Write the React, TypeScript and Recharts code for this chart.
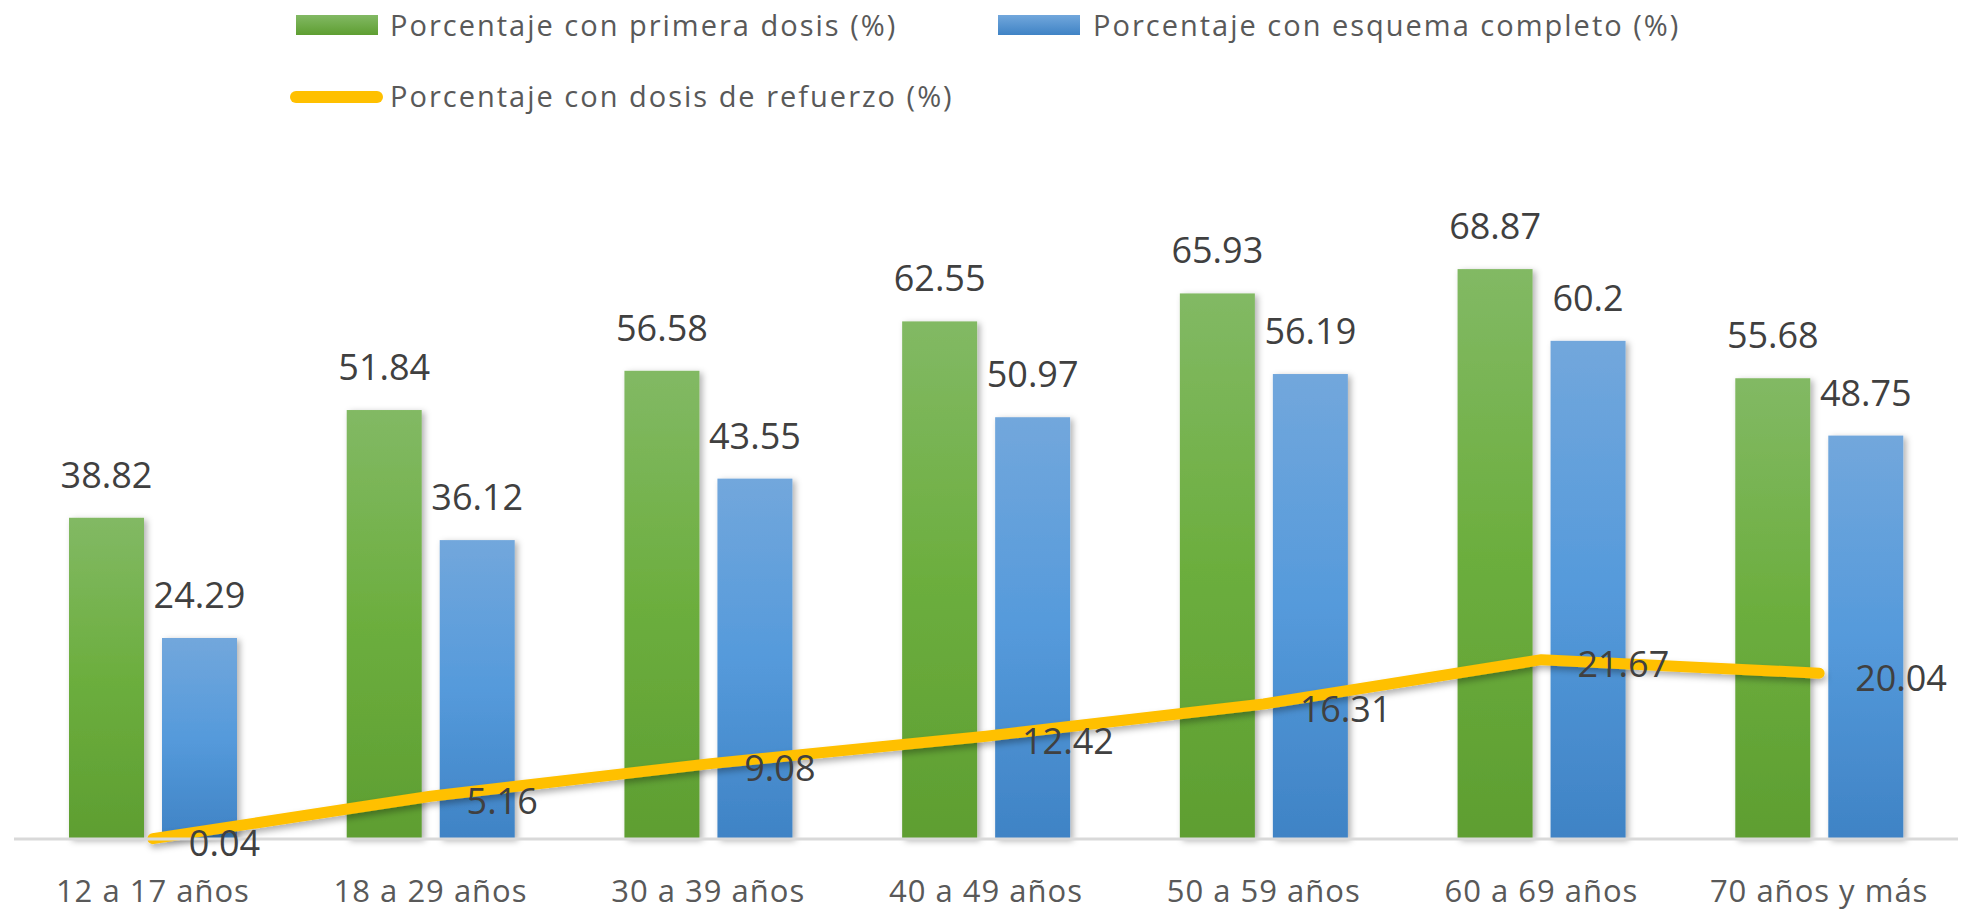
import { ComposedChart, Bar, Line, XAxis, YAxis, Legend, LabelList } from 'recharts'

const FONT = '"Open Sans", "Noto Sans", sans-serif'

const grupos = ['12 a 17 años', '18 a 29 años', '30 a 39 años', '40 a 49 años', '50 a 59 años', '60 a 69 años', '70 años y más']
const primeraDosis = [38.82, 51.84, 56.58, 62.55, 65.93, 68.87, 55.68]
const esquemaCompleto = [24.29, 36.12, 43.55, 50.97, 56.19, 60.2, 48.75]
const refuerzo = [0.04, 5.16, 9.08, 12.42, 16.31, 21.67, 20.04]

const nombrePrimera = 'Porcentaje con primera dosis (%)'
const nombreEsquema = 'Porcentaje con esquema completo (%)'
const nombreRefuerzo = 'Porcentaje con dosis de refuerzo (%)'

const data = grupos.map((grupo, i) => ({
  grupo,
  primera: primeraDosis[i],
  esquema: esquemaCompleto[i],
  refuerzo: refuerzo[i],
}))

function LegendBox() {
  return (
    <svg width={1962} height={120} style={{ display: 'block' }}>
      <defs>
        <linearGradient id="lgGreen" x1="0" y1="0" x2="0" y2="1">
          <stop offset="0%" stopColor="#82B964" />
          <stop offset="100%" stopColor="#5E9E31" />
        </linearGradient>
        <linearGradient id="lgBlue" x1="0" y1="0" x2="0" y2="1">
          <stop offset="0%" stopColor="#72A7DC" />
          <stop offset="100%" stopColor="#3F83C5" />
        </linearGradient>
      </defs>
      <g fontFamily={FONT} fontSize={29} letterSpacing={2} fill="#595959">
        <rect x={296} y={15} width={82} height={20} fill="url(#lgGreen)" />
        <text x={390} y={36}>{nombrePrimera}</text>
        <rect x={998} y={15} width={82} height={20} fill="url(#lgBlue)" />
        <text x={1093} y={36}>{nombreEsquema}</text>
        <line x1={296} y1={97} x2={377} y2={97} stroke="#FFC000" strokeWidth={12} strokeLinecap="round" />
        <text x={390} y={107}>{nombreRefuerzo}</text>
      </g>
    </svg>
  )
}

const barLabel = (p: any) => (
  <text x={p.x + p.width / 2} y={p.y - 30} textAnchor="middle" fontFamily={FONT} fontSize={36} fill="#404040">
    {p.value}
  </text>
)

const lineLabel = (p: any) => (
  <text x={p.x + 36} y={p.y + 4} dominantBaseline="central" fontFamily={FONT} fontSize={36} fill="#404040">
    {p.value}
  </text>
)

const AxisTick = (p: any) => (
  <text x={p.x} y={p.y + 63} textAnchor="middle" fontFamily={FONT} fontSize={31} letterSpacing={1} fill="#595959">
    {p.payload.value}
  </text>
)

const barShape = (gradient: string) => (p: any) => (
  <rect x={p.x} y={p.y} width={p.width} height={p.height} fill={`url(#${gradient})`} filter="url(#barShadow)" />
)

export default function App() {
  return (
    <div style={{ position: 'absolute', left: 0, top: 0, background: '#fff' }}>
      <ComposedChart
        width={1962}
        height={910}
        data={data}
        margin={{ top: 177, right: 4, bottom: 0, left: 14 }}
        barGap={18}
      >
        <defs>
          <linearGradient id="gGreen" x1="0" y1="0" x2="0" y2="1">
            <stop offset="0%" stopColor="#82B964" />
            <stop offset="50%" stopColor="#6CAE3E" />
            <stop offset="100%" stopColor="#5E9E31" />
          </linearGradient>
          <linearGradient id="gBlue" x1="0" y1="0" x2="0" y2="1">
            <stop offset="0%" stopColor="#72A7DC" />
            <stop offset="50%" stopColor="#559ADB" />
            <stop offset="100%" stopColor="#3F83C5" />
          </linearGradient>
          <filter id="barShadow" x="-20%" y="-5%" width="140%" height="110%">
            <feDropShadow dx={3} dy={2} stdDeviation={3} floodColor="#000" floodOpacity={0.3} />
          </filter>
          <filter id="lineShadow" x="-5%" y="-50%" width="110%" height="200%">
            <feDropShadow dx={2} dy={4} stdDeviation={3} floodColor="#000" floodOpacity={0.3} />
          </filter>
        </defs>
        <Legend
          verticalAlign="middle"
          align="center"
          wrapperStyle={{ top: 0, left: 0, width: 1962, height: 120 }}
          content={() => <LegendBox />}
        />
        <XAxis
          dataKey="grupo"
          interval={0}
          tickLine={false}
          tickSize={0}
          tickMargin={0}
          axisLine={{ stroke: '#D9D9D9', strokeWidth: 3 }}
          tick={<AxisTick />}
          height={71}
        />
        <YAxis hide domain={[0, 80]} />
        <Bar dataKey="primera" name={nombrePrimera} barSize={75} shape={barShape('gGreen')} isAnimationActive={false}>
          <LabelList dataKey="primera" content={barLabel} />
        </Bar>
        <Bar dataKey="esquema" name={nombreEsquema} barSize={75} shape={barShape('gBlue')} isAnimationActive={false}>
          <LabelList dataKey="esquema" content={barLabel} />
        </Bar>
        <Line
          dataKey="refuerzo"
          name={nombreRefuerzo}
          type="linear"
          stroke="#FFC000"
          strokeWidth={11}
          strokeLinecap="round"
          strokeLinejoin="round"
          dot={false}
          activeDot={false}
          filter="url(#lineShadow)"
          isAnimationActive={false}
        >
          <LabelList dataKey="refuerzo" content={lineLabel} />
        </Line>
      </ComposedChart>
    </div>
  )
}
